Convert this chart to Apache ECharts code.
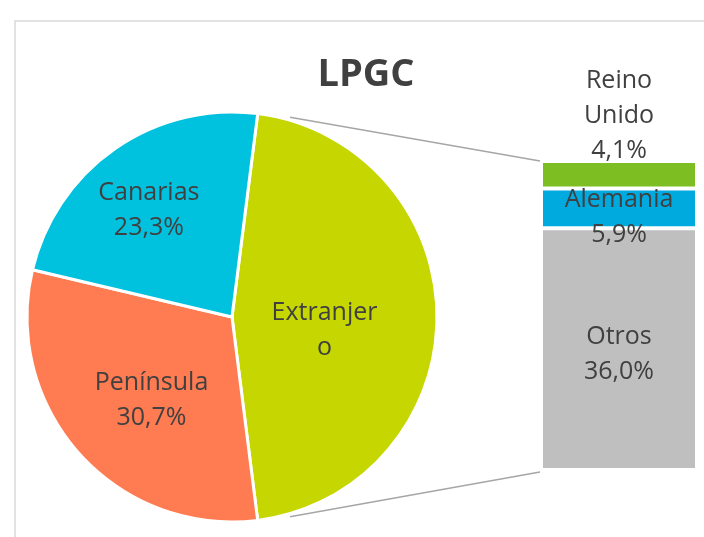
<!DOCTYPE html>
<html>
<head>
<meta charset="utf-8">
<script src="https://cdn.jsdelivr.net/npm/echarts@6/dist/echarts.min.js"></script>
<style>
  html, body { margin: 0; padding: 0; background: #fff; }
  #main { width: 704px; height: 537px; }
</style>
</head>
<body>
<div id="main"></div>
<script>
// pie: origen de los pasajeros
var pieNames = ['Extranjero', 'Península', 'Canarias'];
var pieValues = [46.0, 30.7, 23.3];
var pieColors = ['#C5D600', '#FF7B52', '#00C1DE'];

// barra: desglose de Extranjero (de abajo a arriba)
var barNames = ['Otros', 'Alemania', 'Reino Unido'];
var barValues = [36.0, 5.9, 4.1];
var barColors = ['#BFBFBF', '#00A9DE', '#7DBE22'];

var txt = '#404040';
var fontFam = '"Open Sans", "Noto Sans", sans-serif';
var pieCenter = [232, 317];
var pieR = 205;

function pct(v) {
  return v.toFixed(1).replace('.', ',') + '%';
}

var chart = echarts.init(document.getElementById('main'));

var barTotal = 0;
barValues.forEach(function (v) { barTotal += v; });

// extranjero centrado a la derecha
var startAngle = pieValues[0] * 1.8;

var pieData = [];
pieNames.forEach(function (n, i) {
  pieData.push({ name: n, value: pieValues[i], itemStyle: { color: pieColors[i] } });
});
// small nudges so labels sit like Excel's
var pieShift = [[-6.5, 6.5], [-1, 6.5], [-11.5, -10]];
var barShift = [[0, 5], [0, 9], [0, 9]];

var barSeries = [];
barNames.forEach(function (n, i) {
  barSeries.push({
    name: n,
    type: 'bar',
    stack: 'ext',
    barWidth: '100%',
    data: [barValues[i]],
    itemStyle: { color: barColors[i], borderColor: '#fff', borderWidth: 2 },
    label: {
      show: true,
      position: i === barNames.length - 1 ? 'top' : 'inside',
      distance: 2,
      offset: barShift[i],
      color: txt,
      fontFamily: fontFam,
      fontSize: 25,
      lineHeight: 35,
      formatter: function (p) {
        return p.seriesName.replace(' ', '\n') + '\n' + pct(p.value);
      }
    },
    silent: true
  });
});

var option = {
  backgroundColor: '#fff',
  animation: false,
  title: {
    text: 'LPGC',
    left: 361,
    top: 51,
    textAlign: 'center',
    textStyle: { color: txt, fontFamily: fontFam, fontWeight: 'bold', fontSize: 38 }
  },
  grid: { left: 541, width: 156, top: 161, bottom: 67 },
  xAxis: { type: 'category', data: ['Extranjero'], show: false },
  yAxis: { type: 'value', min: 0, max: barTotal, show: false },
  series: [{
    type: 'pie',
    center: pieCenter,
    radius: pieR,
    startAngle: startAngle,
    clockwise: true,
    data: pieData,
    itemStyle: { borderColor: '#fff', borderWidth: 3 },
    labelLine: { show: false },
    label: {
      show: true,
      position: 'inside',
      color: txt,
      fontFamily: fontFam,
      fontSize: 25,
      lineHeight: 35,
      formatter: function (p) {
        if (p.name === 'Extranjero') return 'Extranjer\no';
        return p.name + '\n' + pct(p.value);
      }
    },
    labelLayout: function (p) {
      var s = pieShift[p.dataIndex];
      return { dx: s[0], dy: s[1] };
    },
    silent: true
  }].concat(barSeries)
};

chart.setOption(option);

// marco + líneas de conexión
var topPx = chart.convertToPixel({ gridIndex: 0 }, [0, barTotal]);
var botPx = chart.convertToPixel({ gridIndex: 0 }, [0, 0]);
var barLeft = 541;
var edge = 90 - startAngle; // borde superior de Extranjero, grados desde arriba
var a0 = (edge + 9) * Math.PI / 180;
var a1 = (180 - edge - 9) * Math.PI / 180;
function onCircle(a) {
  return [pieCenter[0] + (pieR + 3) * Math.sin(a), pieCenter[1] - (pieR + 3) * Math.cos(a)];
}
var p0 = onCircle(a0);
var p1 = onCircle(a1);

chart.setOption({
  graphic: [
    {
      type: 'rect',
      shape: { x: 15, y: 21, width: 740, height: 580 },
      style: { fill: 'none', stroke: '#D9D9D9', lineWidth: 1.5 },
      z: -1
    },
    {
      type: 'line',
      shape: { x1: p0[0], y1: p0[1], x2: barLeft - 1, y2: topPx[1] },
      style: { stroke: '#A6A6A6', lineWidth: 1.5 }
    },
    {
      type: 'line',
      shape: { x1: p1[0], y1: p1[1], x2: barLeft - 1, y2: botPx[1] + 2 },
      style: { stroke: '#A6A6A6', lineWidth: 1.5 }
    }
  ]
});
</script>
</body>
</html>
